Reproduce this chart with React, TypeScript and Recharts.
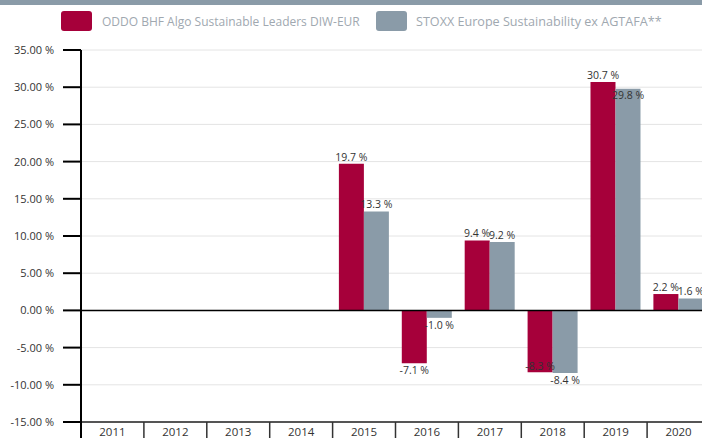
import React from 'react'
import { BarChart, Bar, XAxis, YAxis, CartesianGrid, ReferenceLine, LabelList } from 'recharts'

const years = ['2011', '2012', '2013', '2014', '2015', '2016', '2017', '2018', '2019', '2020']
const fund = [null, null, null, null, 19.7, -7.1, 9.4, -8.3, 30.7, 2.2]
const benchmark = [null, null, null, null, 13.3, -1.0, 9.2, -8.4, 29.8, 1.6]
const yTicks = [-15, -10, -5, 0, 5, 10, 15, 20, 25, 30, 35]

const fundName = 'ODDO BHF Algo Sustainable Leaders DIW-EUR'
const benchName = 'STOXX Europe Sustainability ex AGTAFA**'

const RED = '#a6003a'
const GRAY = '#8a9ba8'
const FONT = '"Open Sans", sans-serif'

const data = years.map((year, i) => ({ year, fund: fund[i], benchmark: benchmark[i] }))

const CHART_W = 710
const CHART_H = 444
const TOP = 50
const X_H = 22
const Y_W = 81
const BAND = (CHART_W - Y_W) / years.length
const PX_PER_PCT = (CHART_H - TOP - X_H) / 50

const fmtLabel = (v: number) => v.toFixed(1) + ' %'

// labels of the two bars in one year get in each other's way sometimes,
// then the smaller one goes inside its bar
function makeLabel(own: (number | null)[], other: (number | null)[]) {
  return (props: any) => {
    const { x, y, width, height, value } = props
    if (value == null) return null
    const v = Number(value)
    const idx = own.indexOf(v)
    const o = idx >= 0 ? other[idx] : null
    const top = Math.min(y, y + height)
    const bottom = Math.max(y, y + height)
    const cx = x + width / 2
    let inside = false
    if (o != null && Math.sign(o) === Math.sign(v) && v !== 0) {
      const wOwn = fmtLabel(v).length * 5
      const wOther = fmtLabel(o).length * 5
      const hOverlap = (wOwn + wOther) / 2 > Math.abs(width)
      const vOverlap = Math.abs(v - o) * PX_PER_PCT < 12
      if (hOverlap && vOverlap && Math.abs(v) < Math.abs(o)) inside = true
    }
    let ty
    if (v >= 0) ty = inside ? top + 10 : top - 3
    else ty = inside ? bottom - 2 : bottom + 11
    return (
      <text x={cx} y={ty} textAnchor="middle" fontSize={10.5} fill="#333" fontFamily={FONT}>
        {fmtLabel(v)}
      </text>
    )
  }
}

const YearTick = (props: any) => {
  const { x, y, payload, index } = props
  const left = x - BAND / 2
  return (
    <g>
      <line
        x1={left}
        x2={left}
        y1={y}
        y2={y + 22}
        stroke={index === 0 ? '#000' : '#333'}
        strokeWidth={index === 0 ? 2 : 1.5}
      />
      <text x={x} y={y + 14} textAnchor="middle" fontSize={11.5} fill="#333" fontFamily={FONT}>
        {payload.value}
      </text>
    </g>
  )
}

export default function App() {
  return (
    <div
      style={{
        position: 'absolute',
        left: 0,
        top: 0,
        width: 702,
        height: 438,
        overflow: 'hidden',
        background: '#fff',
        fontFamily: FONT
      }}
    >
      <div style={{ position: 'absolute', left: 0, top: 0, width: 702, height: 5, background: GRAY }} />
      <div style={{ position: 'absolute', left: 61, top: 11, display: 'flex', alignItems: 'center' }}>
        <div style={{ width: 31, height: 20, borderRadius: 3, background: RED }} />
        <span style={{ marginLeft: 10, fontSize: 12, color: '#a0a8b0', width: 274, whiteSpace: 'nowrap' }}>
          {fundName}
        </span>
        <div style={{ width: 31, height: 20, borderRadius: 3, background: GRAY }} />
        <span style={{ marginLeft: 9, fontSize: 12.6, color: '#a0a8b0', whiteSpace: 'nowrap' }}>{benchName}</span>
      </div>
      <div style={{ position: 'absolute', left: 0, top: 0 }}>
        <BarChart
          width={CHART_W}
          height={CHART_H}
          data={data}
          margin={{ top: TOP, right: 0, bottom: 0, left: 0 }}
          barCategoryGap="10%"
          barGap={0}
        >
          <CartesianGrid vertical={false} stroke="#e4e4e4" />
          <XAxis
            dataKey="year"
            height={X_H}
            tickSize={0}
            tickMargin={0}
            tickLine={false}
            axisLine={{ stroke: '#555', strokeWidth: 2 }}
            tick={<YearTick />}
            interval={0}
          />
          <YAxis
            width={Y_W}
            domain={[-15, 35]}
            ticks={yTicks}
            interval={0}
            tickSize={18}
            tickMargin={9}
            tickFormatter={(v: number) => v.toFixed(2) + ' %'}
            tick={{ fontSize: 11, fill: '#333', fontFamily: FONT }}
            tickLine={{ stroke: '#000', strokeWidth: 2 }}
            axisLine={{ stroke: '#000', strokeWidth: 2 }}
          />
          <ReferenceLine y={0} stroke="#000" strokeWidth={1.5} />
          <Bar dataKey="fund" fill={RED} isAnimationActive={false}>
            <LabelList dataKey="fund" content={makeLabel(fund, benchmark)} />
          </Bar>
          <Bar dataKey="benchmark" fill={GRAY} isAnimationActive={false}>
            <LabelList dataKey="benchmark" content={makeLabel(benchmark, fund)} />
          </Bar>
        </BarChart>
      </div>
    </div>
  )
}
